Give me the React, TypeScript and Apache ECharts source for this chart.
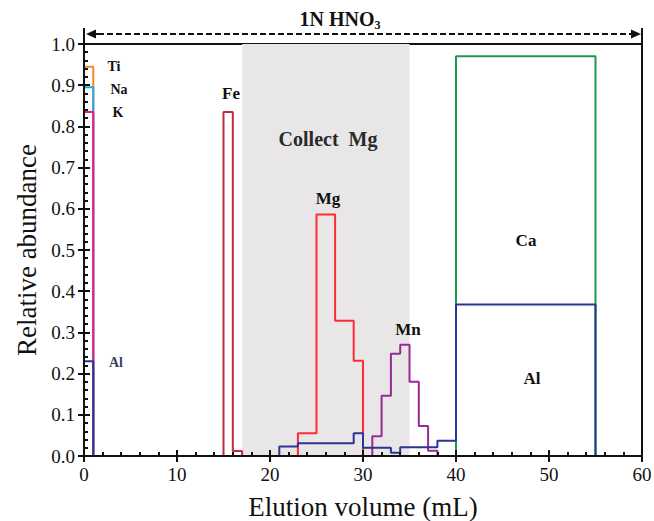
import React, { useEffect, useRef } from "react";
import * as echarts from "echarts";

// Bin edges (mL) and relative abundance per bin
const tiEdges = [0, 1];
const tiValues = [0.945];
const naEdges = [0, 1];
const naValues = [0.895];
const kEdges = [0, 1];
const kValues = [0.835];
const alEdges = [0, 1, 21, 23, 29, 30, 33, 34, 38, 40, 55];
const alValues = [0.23, 0, 0.023, 0.031, 0.055, 0.02, 0.008, 0.021, 0.037, 0.368];
const feEdges = [15, 16, 17];
const feValues = [0.835, 0.012];
const mgEdges = [23, 25, 27, 29, 30];
const mgValues = [0.055, 0.586, 0.328, 0.231];
const mnEdges = [31, 32, 33, 34, 35, 36, 37, 38];
const mnValues = [0.048, 0.146, 0.248, 0.27, 0.18, 0.073, 0.013];
const caEdges = [40, 55];
const caValues = [0.97];
const collectRange = [17, 35];
const xTicks = [0, 10, 20, 30, 40, 50, 60];
const yTicks = [0.0, 0.1, 0.2, 0.3, 0.4, 0.5, 0.6, 0.7, 0.8, 0.9, 1.0];

const FONT = "'Liberation Serif', 'Times New Roman', serif";

function stepData(edges: number[], vals: number[]) {
  const pts: any[] = [];
  let prev = 0;
  for (let i = 0; i < vals.length; i++) {
    const x0 = edges[i];
    const x1 = edges[i + 1];
    const v = vals[i];
    if (v === 0) {
      if (prev !== 0) pts.push([x0, prev], [x0, 0]);
      pts.push([x0, "-"]);
      prev = 0;
      continue;
    }
    pts.push([x0, prev], [x0, v], [x1, v]);
    prev = v;
  }
  const last = edges[edges.length - 1];
  pts.push([last, prev], [last, 0]);
  return pts;
}

function stepSeries(name: string, edges: number[], vals: number[], color: string) {
  return {
    name,
    type: "line",
    data: stepData(edges, vals),
    showSymbol: false,
    symbol: "none",
    connectNulls: false,
    lineStyle: { color, width: 2 },
    z: 3,
    silent: true,
  };
}

export default function App() {
  const ref = useRef<HTMLDivElement>(null);
  useEffect(() => {
    if (!ref.current) return;
    const chart = echarts.init(ref.current, null, { renderer: "svg" });
    const gl = 84, gr = 642, gt = 44, gb = 456;
    const baseX = {
      type: "value",
      min: xTicks[0],
      max: xTicks[xTicks.length - 1],
      interval: 10,
      splitLine: { show: false },
    };
    const baseY = {
      type: "value",
      min: yTicks[0],
      max: yTicks[yTicks.length - 1],
      interval: 0.1,
      splitLine: { show: false },
    };
    chart.setOption({
      animation: false,
      backgroundColor: "#fff",
      grid: {
        left: gl,
        right: 654 - gr,
        top: gt,
        bottom: 521 - gb,
        show: true,
        borderColor: "#111",
        borderWidth: 2,
        backgroundColor: "transparent",
        outerBoundsMode: "none",
      },
      xAxis: [
        {
          ...baseX,
          position: "bottom",
          z: 10,
          name: "Elution volume (mL)",
          nameLocation: "middle",
          nameGap: 37,
          nameTextStyle: { fontFamily: FONT, fontSize: 27, color: "#111" },
          axisLine: { lineStyle: { color: "#111", width: 2 } },
          axisTick: { inside: true, length: 6, lineStyle: { width: 2, color: "#111" } },
          minorTick: { show: true, splitNumber: 5, length: 4, lineStyle: { width: 2, color: "#111" } },
          axisLabel: { fontFamily: FONT, fontSize: 19, color: "#111", margin: 9 },
        },
        {
          ...baseX,
          position: "bottom",
          z: 10,
          axisLine: { show: false },
          axisTick: { inside: false, length: 6, lineStyle: { width: 2, color: "#111" } },
          axisLabel: { show: false },
        },
      ],
      yAxis: [
        {
          ...baseY,
          position: "left",
          z: 10,
          name: "Relative abundance",
          nameLocation: "middle",
          nameGap: 43,
          nameTextStyle: { fontFamily: FONT, fontSize: 27, color: "#111" },
          axisLine: { lineStyle: { color: "#111", width: 2 } },
          axisTick: { inside: true, length: 6, lineStyle: { width: 2, color: "#111" } },
          minorTick: { show: true, splitNumber: 5, length: 4, lineStyle: { width: 2, color: "#111" } },
          axisLabel: {
            fontFamily: FONT,
            fontSize: 19,
            color: "#111",
            margin: 9,
            formatter: (v: number) => v.toFixed(1),
          },
        },
        {
          ...baseY,
          position: "left",
          offset: 0,
          z: 10,
          axisLine: { show: false },
          axisTick: { inside: false, length: 6, lineStyle: { width: 2, color: "#111" } },
          axisLabel: { show: false },
        },
      ],
      series: [
        {
          name: "collect",
          type: "line",
          data: [],
          z: 1,
          silent: true,
          markArea: {
            silent: true,
            itemStyle: { color: "#e8e6e6" },
            data: [[{ xAxis: collectRange[0] }, { xAxis: collectRange[1] }]],
          },
        },
        stepSeries("Ca", caEdges, caValues, "#1a9a4a"),
        stepSeries("Ti", tiEdges, tiValues, "#f08a2c"),
        stepSeries("Na", naEdges, naValues, "#1fa9e6"),
        stepSeries("K", kEdges, kValues, "#ec188e"),
        stepSeries("Fe", feEdges, feValues, "#c42a3c"),
        stepSeries("Mg", mgEdges, mgValues, "#ff2a33"),
        stepSeries("Mn", mnEdges, mnValues, "#962b96"),
        stepSeries("Al", alEdges, alValues, "#2a3597"),
      ],
      graphic: [
        { type: "line", shape: { x1: gl, y1: 28, x2: gl, y2: gt }, style: { stroke: "#111", lineWidth: 2 }, z: 20 },
        { type: "line", shape: { x1: gr, y1: 28, x2: gr, y2: gt }, style: { stroke: "#111", lineWidth: 2 }, z: 20 },
        { type: "line", shape: { x1: gl + 10, y1: 34, x2: gl + 14, y2: 34 }, style: { stroke: "#111", lineWidth: 2 }, z: 20 },
        { type: "line", shape: { x1: gl + 14, y1: 34, x2: gr - 11, y2: 34 }, style: { stroke: "#111", lineWidth: 2, lineDash: [6, 3] }, z: 20 },
        { type: "polygon", shape: { points: [[gl + 2, 34], [gl + 12, 29.5], [gl + 12, 38.5]] }, style: { fill: "#111" }, z: 20 },
        { type: "polygon", shape: { points: [[gr - 1, 34], [gr - 11, 29.5], [gr - 11, 38.5]] }, style: { fill: "#111" }, z: 20 },
        {
          type: "text",
          x: 340,
          y: 19,
          z: 20,
          style: {
            text: "{a|1N HNO}{s|3}",
            align: "center",
            verticalAlign: "middle",
            rich: {
              a: { fontFamily: FONT, fontSize: 20, fontWeight: "bold", fill: "#111" },
              s: { fontFamily: FONT, fontSize: 12, fontWeight: "bold", fill: "#111", padding: [11, 0, 0, 0] },
            },
          },
        },
        ...[
          { t: "Ti", x: 114, y: 66, s: 14, c: "#111" },
          { t: "Na", x: 119, y: 89, s: 14, c: "#111" },
          { t: "K", x: 118, y: 112, s: 14, c: "#111" },
          { t: "Al", x: 116, y: 362, s: 14, c: "#3c3f5e" },
          { t: "Fe", x: 231, y: 93, s: 17, c: "#111" },
          { t: "Collect  Mg", x: 328, y: 139, s: 20, c: "#2a2a2a" },
          { t: "Mg", x: 328, y: 198, s: 17, c: "#111" },
          { t: "Mn", x: 408, y: 329, s: 17, c: "#111" },
          { t: "Ca", x: 526, y: 240, s: 17, c: "#111" },
          { t: "Al", x: 532, y: 378, s: 17, c: "#111" },
        ].map((d) => ({
          type: "text",
          x: d.x,
          y: d.y,
          z: 20,
          style: {
            text: d.t,
            fontFamily: FONT,
            fontSize: d.s,
            fontWeight: "bold",
            fill: d.c,
            align: "center",
            verticalAlign: "middle",
          },
        })),
      ],
    });
    return () => chart.dispose();
  }, []);
  return (
    <div
      ref={ref}
      style={{ position: "fixed", left: 0, top: 0, width: 654, height: 521, background: "#fff" }}
    />
  );
}
